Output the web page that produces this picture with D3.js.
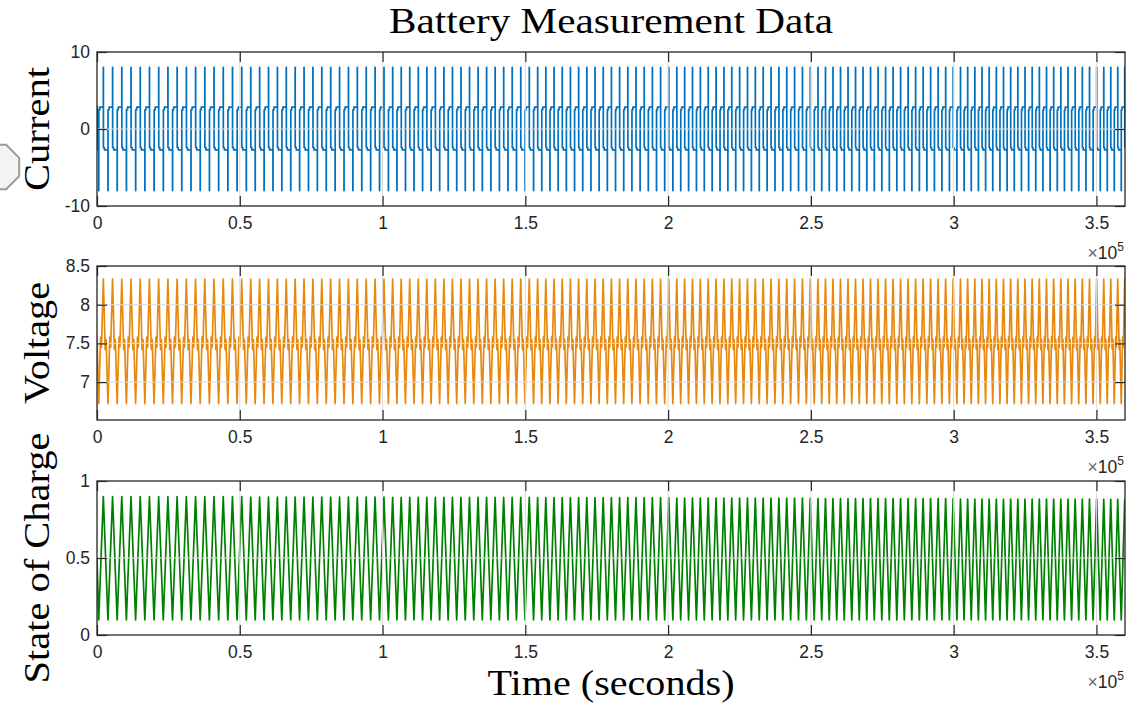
<!DOCTYPE html>
<html>
<head>
<meta charset="utf-8">
<script src="https://cdn.jsdelivr.net/npm/d3@7"></script>
<style>
  body { margin: 0; background: #fff; }
  svg { display: block; }
</style>
</head>
<body>
<div id="chart"></div>
<script>
// one charge/discharge cycle, phase 0 = end of discharge (-8 A pulse)
const currentPhase = [0, 0, 0.01, 0.01, 0.12, 0.12, 0.5, 0.5, 0.51, 0.51, 0.62, 0.62];
const currentValue = [-2.7, -8, -8, 2.5, 2.5, 2.85, 2.85, 8, 8, -2.4, -2.4, -2.7];
const voltagePhase = [0, 0.2, 0.3, 0.5, 0.7, 0.8];
const voltageValue = [6.72, 7.58, 7.45, 8.33, 7.42, 7.55];
const socTrough = 0.098;

// read per 0.5e5 s block of the time axis
const socPeak     = [0.898, 0.896, 0.894, 0.892, 0.889, 0.886, 0.883, 0.881];
const cyclePeriod = [3230, 3110, 2990, 2870, 2750, 2630, 2510, 2450];

// samples before the first full cycle
const firstTrough  = 600;
const startCurrent = [[0, 0], [0, 2.9], [150, 2.9], [150, -2.7]];
const startVoltage = [[0, 7.6]];
const startSoc     = [[0, 0.5]];

const tMax         = 3.6e5;
const xTicks       = [0, 0.5e5, 1e5, 1.5e5, 2e5, 2.5e5, 3e5, 3.5e5];
const currentTicks = [-10, 0, 10];
const voltageTicks = [7, 7.5, 8, 8.5];
const socTicks     = [0, 0.5, 1];

// build the series cycle by cycle
const current = startCurrent.slice();
const voltage = startVoltage.slice();
const soc     = startSoc.slice();
for (let t = firstTrough; t < tMax; ) {
  const blk = Math.min(Math.floor(t / 5e4), cyclePeriod.length - 1);
  const P = cyclePeriod[blk];
  currentPhase.forEach((p, i) => current.push([t + p * P, currentValue[i]]));
  voltagePhase.forEach((p, i) => voltage.push([t + p * P, voltageValue[i]]));
  soc.push([t, socTrough], [t + P / 2, socPeak[blk]]);
  t += P;
}

const width = 1148, height = 707;
const left = 97, right = 1125, panelH = 154;
const serif = "'Liberation Serif', 'Times New Roman', serif";
const sans  = "'Liberation Sans', Arial, sans-serif";
const ink   = "#262626";

const svg = d3.select("#chart").append("svg")
  .attr("width", width)
  .attr("height", height)
  .style("background", "#fff");

const x = d3.scaleLinear().domain([0, tMax]).range([left, right]);

const panels = [
  { data: current, domain: [-10, 10],   ticks: currentTicks, color: "#0072BD", label: "Current",         labelLen: 124, top: 52  },
  { data: voltage, domain: [6.51, 8.5], ticks: voltageTicks, color: "#E8890F", label: "Voltage",         labelLen: 122, top: 266 },
  { data: soc,     domain: [0, 1],      ticks: socTicks,     color: "#008000", label: "State of Charge", labelLen: 251, top: 481 }
];

// stretched serif text, stands in for the LaTeX font
function serifText(sel, txt, len) {
  return sel.append("text")
    .attr("font-family", serif)
    .attr("font-size", 36)
    .attr("fill", "#000")
    .attr("text-anchor", "middle")
    .attr("textLength", len)
    .attr("lengthAdjust", "spacingAndGlyphs")
    .text(txt);
}

panels.forEach((pn, i) => {
  const bottom = pn.top + panelH;
  const y = d3.scaleLinear().domain(pn.domain).range([bottom, pn.top]);
  const g = svg.append("g");

  g.append("clipPath").attr("id", "clip" + i)
    .append("rect")
      .attr("x", left).attr("y", pn.top)
      .attr("width", right - left).attr("height", panelH);

  g.append("path")
    .datum(pn.data)
    .attr("clip-path", `url(#clip${i})`)
    .attr("fill", "none")
    .attr("stroke", pn.color)
    .attr("stroke-width", 1.7)
    .attr("stroke-linejoin", "round")
    .attr("d", d3.line().x(d => x(d[0])).y(d => y(d[1])));

  // grid sits on top of the traces, as in the figure
  g.append("g").selectAll("line.vgrid")
    .data(xTicks.slice(1))
    .join("line")
      .attr("x1", d => x(d)).attr("x2", d => x(d))
      .attr("y1", pn.top).attr("y2", bottom)
      .attr("stroke", "#dcdcdc").attr("stroke-width", 1);
  g.append("g").selectAll("line.hgrid")
    .data(pn.ticks.filter(d => d > pn.domain[0] && d < pn.domain[1]))
    .join("line")
      .attr("x1", left).attr("x2", right)
      .attr("y1", d => y(d)).attr("y2", d => y(d))
      .attr("stroke", "#dcdcdc").attr("stroke-width", 1);

  const styleAxis = a => {
    a.select(".domain").remove();
    a.selectAll("line").attr("stroke", ink).attr("stroke-width", 1.2);
    a.selectAll("text").attr("fill", ink).attr("font-family", sans).attr("font-size", 17.5);
  };

  g.append("g")
    .attr("transform", `translate(0,${bottom})`)
    .call(d3.axisBottom(x).tickValues(xTicks).tickSize(-10).tickPadding(10.5)
      .tickFormat(d => String(d / 1e5)))
    .call(styleAxis);
  g.append("g")
    .attr("transform", `translate(0,${pn.top})`)
    .call(d3.axisTop(x).tickValues(xTicks).tickSize(-10).tickFormat(""))
    .call(styleAxis);
  g.append("g")
    .attr("transform", `translate(${left},0)`)
    .call(d3.axisLeft(y).tickValues(pn.ticks).tickSize(-10).tickPadding(7)
      .tickFormat(d => String(d)))
    .call(styleAxis);
  g.append("g")
    .attr("transform", `translate(${right},0)`)
    .call(d3.axisRight(y).tickValues(pn.ticks).tickSize(-10).tickFormat(""))
    .call(styleAxis);

  g.append("rect")
    .attr("x", left).attr("y", pn.top)
    .attr("width", right - left).attr("height", panelH)
    .attr("fill", "none").attr("stroke", ink).attr("stroke-width", 1.3);

  // x10^5 exponent label
  const ex = g.append("text")
    .attr("x", right - 1).attr("y", bottom + 53)
    .attr("text-anchor", "end")
    .attr("font-family", sans).attr("font-size", 17.5).attr("fill", ink);
  ex.append("tspan").attr("fill", "#666").text("\u00d7");
  ex.append("tspan").text("10");
  ex.append("tspan").attr("font-size", 12).attr("dy", -8).text("5");

  serifText(g, pn.label, pn.labelLen)
    .attr("transform", `translate(49,${(pn.top + bottom) / 2}) rotate(-90)`);
});

serifText(svg, "Battery Measurement Data", 444)
  .attr("x", (left + right) / 2).attr("y", 33);
serifText(svg, "Time (seconds)", 247)
  .attr("x", (left + right) / 2).attr("y", 695);

// bit of a toolbar icon cut off at the left edge
svg.append("polygon")
  .attr("points", d3.range(8).map(k => {
    const a = Math.PI / 8 + k * Math.PI / 4;
    return [-3 + 24 * Math.cos(a), 167 + 24 * Math.sin(a)].join(",");
  }).join(" "))
  .attr("fill", "#f3f3f3")
  .attr("stroke", "#9c9c9c")
  .attr("stroke-width", 2);
</script>
</body>
</html>
